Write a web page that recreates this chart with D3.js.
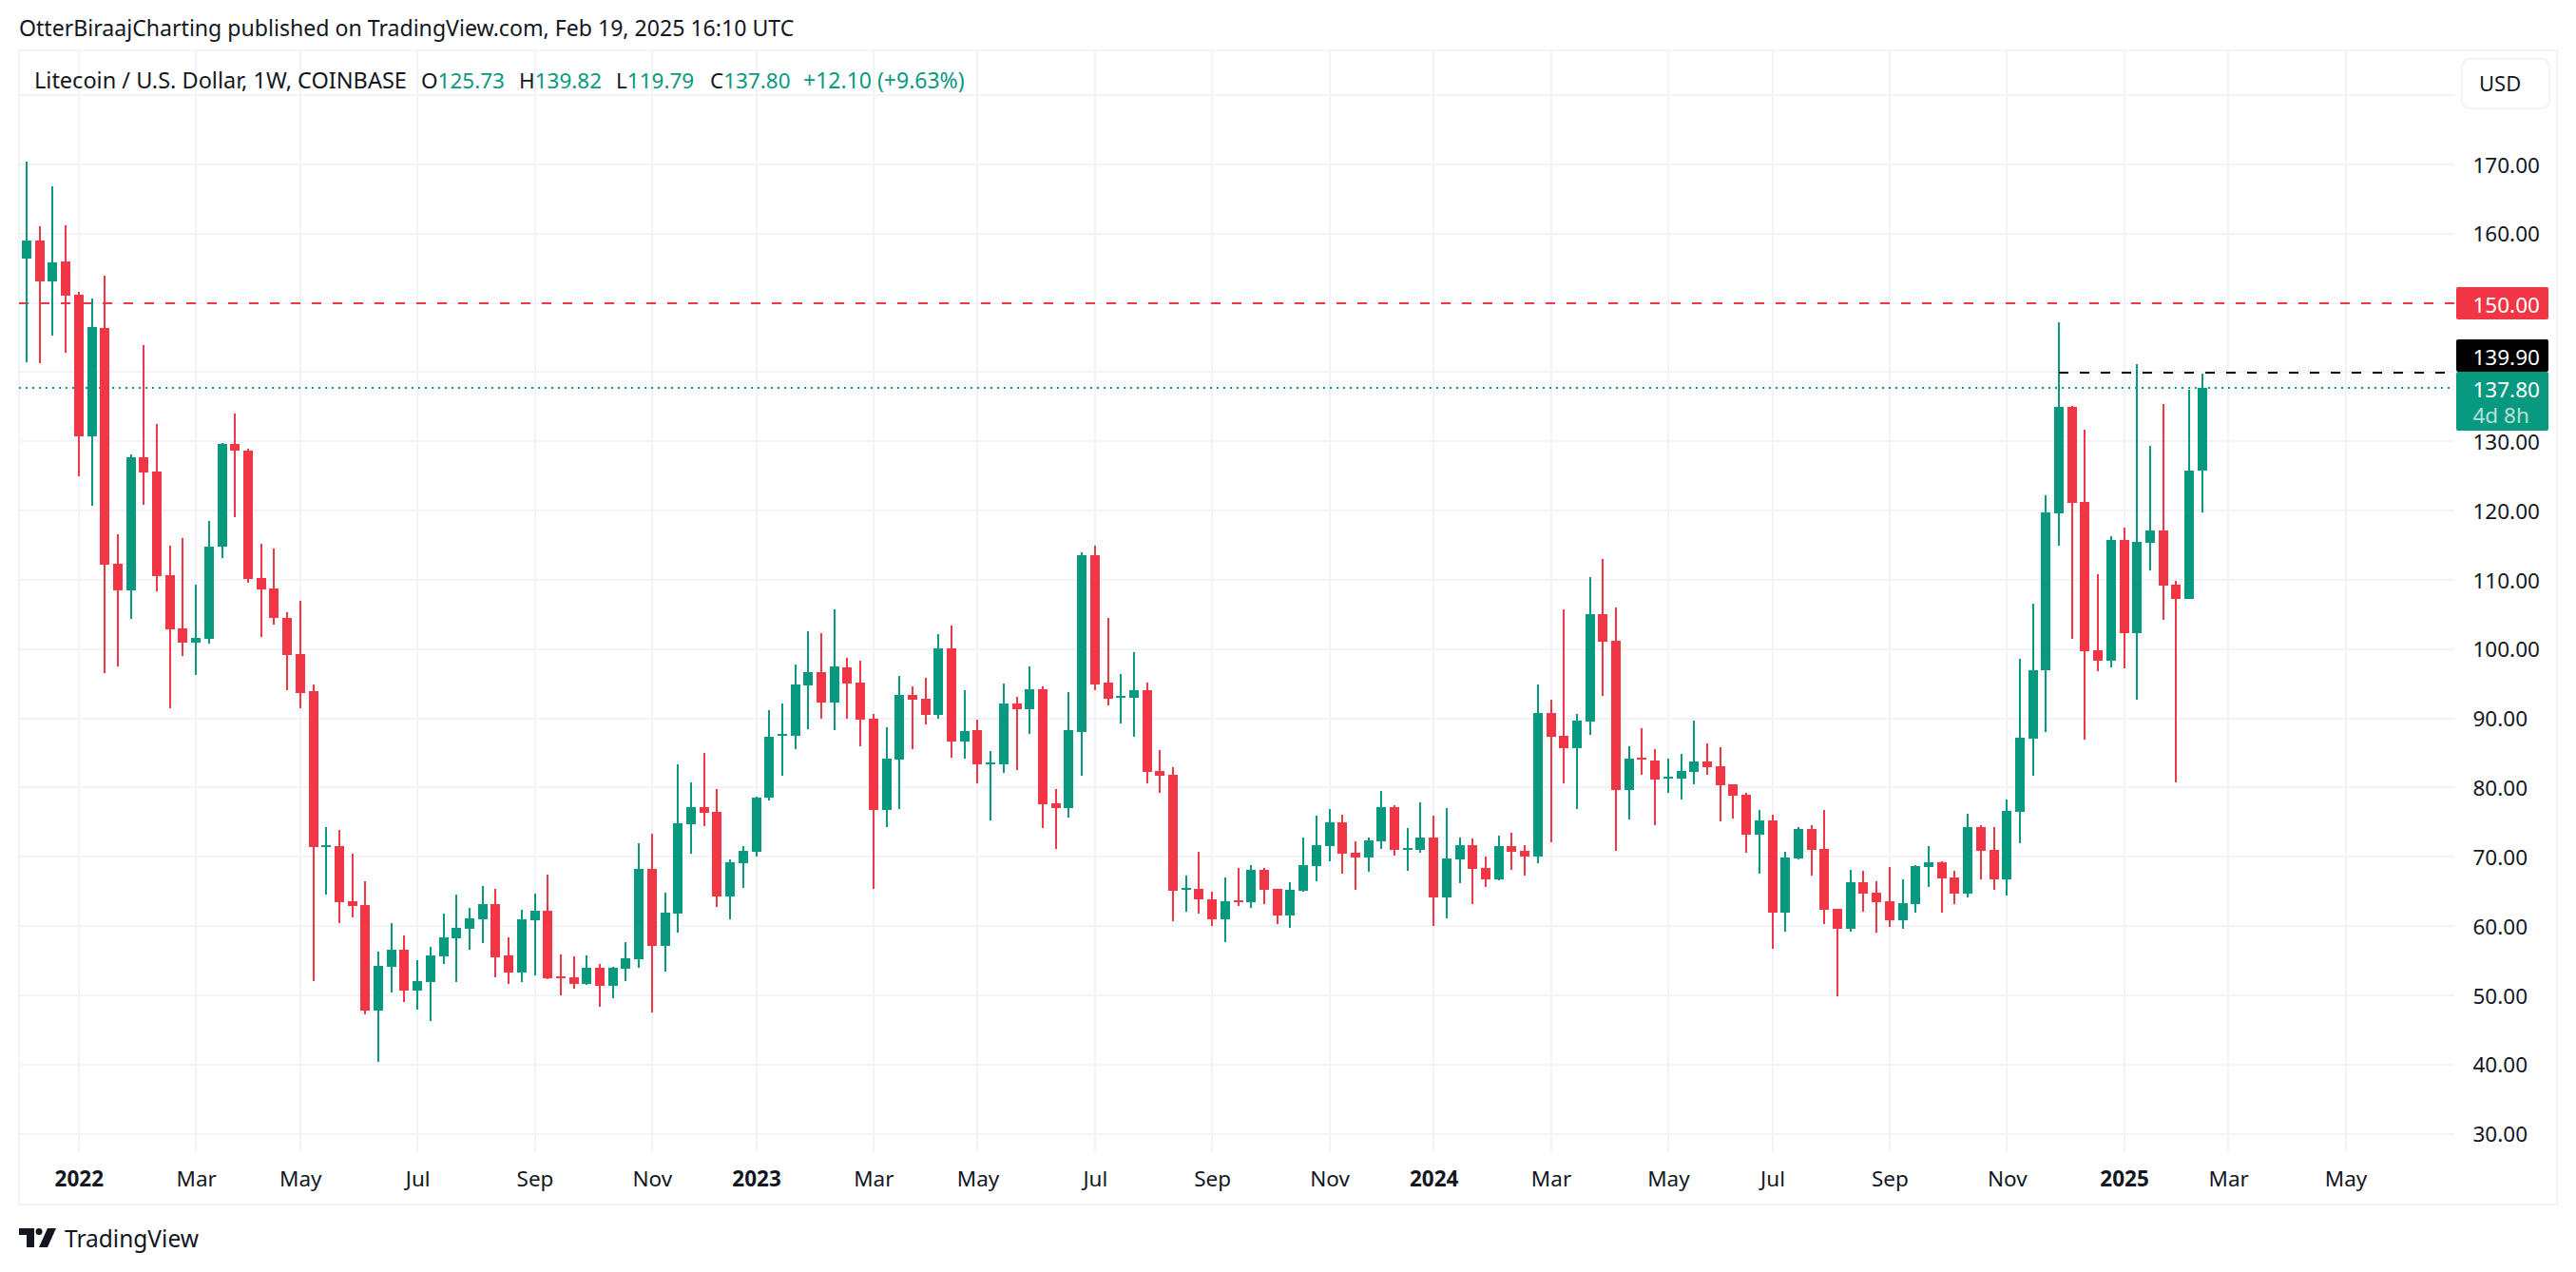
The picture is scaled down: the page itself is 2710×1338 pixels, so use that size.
<!DOCTYPE html>
<html>
<head>
<meta charset="utf-8">
<title>LTCUSD</title>
<script src="https://cdnjs.cloudflare.com/ajax/libs/d3/7.8.5/d3.min.js"></script>
<style>
  html, body { margin: 0; padding: 0; background: #fff; }
  svg { display: block; }
  text { font-family: "Noto Sans", sans-serif; fill: #131722; }
</style>
</head>
<body>
<div id="chart"></div>
<script>
// weekly candles
var firstWeek = '2021-12-06'
var opens = [
  156.37,158.98,153.07,155.95,151.15,130.69,146.34,112.3,108.45,127.67,125.61,110.64,102.95,100.89,101.44,114.77,129.6,128.63,110.23,108.72,
  104.46,99.25,93.89,71.37,71.5,63.55,63.0,47.76,54.07,56.54,50.64,51.88,55.58,58.19,59.56,60.94,63.14,55.72,53.25,60.8,
  62.17,52.7,52.56,51.6,53.93,51.33,53.8,55.17,68.21,57.09,61.76,74.67,77.14,76.45,64.23,69.04,70.68,78.51,87.44,87.44,
  94.71,96.63,92.24,97.32,95.12,89.9,76.73,84.0,93.34,92.79,90.46,100.07,86.61,88.26,83.32,83.32,92.1,91.28,94.16,77.69,
  77.0,87.98,113.52,95.12,92.93,92.93,94.03,82.35,81.81,65.19,65.33,63.82,60.94,63.68,63.41,68.08,65.33,61.49,65.06,68.63,
  71.51,74.94,70.55,69.86,72.19,77.14,70.96,70.96,72.74,64.09,69.59,71.65,68.35,66.7,71.51,70.82,70.0,90.73,87.44,85.65,
  89.5,105.01,101.17,79.61,84.28,83.87,81.26,81.26,82.22,83.73,83.04,80.43,78.92,73.15,75.22,61.9,69.72,73.98,71.1,62.45,
  59.57,66.29,64.78,63.55,60.8,63.13,68.49,69.17,66.98,64.65,74.26,70.97,66.71,76.46,87.03,96.97,119.57,135.05,121.2,99.81,
  98.32,115.72,102.31,115.34,117.12,109.28,107.21,125.73
]
var highs = [
  170.37,161.03,166.8,161.17,151.56,150.6,153.9,116.55,128.08,143.87,132.48,114.9,116.0,109.27,118.47,129.73,133.99,128.9,115.18,114.48,
  105.28,106.93,94.85,74.26,73.84,70.41,66.43,56.27,60.39,58.6,55.03,56.96,61.76,64.51,62.58,65.74,65.33,58.33,62.31,64.64,
  67.39,55.86,55.58,55.72,54.48,54.07,57.64,71.92,73.29,64.78,83.32,80.71,84.96,79.75,69.59,71.51,78.65,91.14,92.1,97.73,
  102.54,102.26,105.7,98.69,98.28,90.59,88.67,96.08,94.57,95.81,102.13,103.36,94.03,89.77,85.24,94.99,93.06,97.46,94.57,79.75,
  93.75,113.93,114.9,104.46,96.36,99.52,95.12,85.38,82.9,67.25,70.68,64.92,66.98,68.35,68.76,68.35,65.33,66.29,72.74,75.9,
  76.86,76.04,72.19,72.74,79.47,77.41,74.12,77.82,75.9,77.0,72.74,72.61,70.0,73.02,73.43,71.65,94.85,92.65,105.7,90.59,
  110.36,112.97,105.97,85.92,88.53,85.51,84.14,84.83,89.63,86.34,85.79,80.43,79.2,76.73,76.04,70.68,74.26,74.53,76.73,62.45,
  68.08,67.94,66.43,68.49,66.7,68.76,71.51,69.31,67.94,76.18,74.53,74.26,78.24,98.56,106.52,122.16,147.26,135.19,131.63,110.77,
  116.3,117.5,141.2,129.42,135.34,109.86,137.5,139.82
]
var lows = [
  141.45,141.26,145.25,142.77,124.92,120.67,96.5,97.46,104.32,120.8,108.3,91.42,98.97,96.22,100.75,113.1,119.02,109.55,101.71,103.5,
  94.03,91.42,52.01,64.51,60.39,61.21,47.21,40.34,50.36,49.0,47.9,46.25,54.48,51.88,56.54,57.51,52.56,51.6,51.88,52.84,
  52.29,49.95,50.92,51.46,48.31,49.54,52.01,53.93,47.48,53.39,59.02,70.41,74.39,62.72,60.94,65.47,70.0,78.1,81.67,85.51,
  88.4,89.9,88.26,89.9,85.92,65.33,74.26,76.86,85.51,89.08,89.9,84.28,84.14,80.57,75.21,82.08,82.49,87.71,74.12,71.1,
  75.63,81.67,94.03,91.83,89.22,87.3,80.57,79.2,60.66,62.03,61.76,59.98,57.64,62.86,62.58,63.13,60.25,59.7,64.92,66.43,
  69.31,67.53,65.19,67.8,71.1,70.13,67.94,70.55,59.98,61.07,66.15,63.13,65.6,66.57,68.08,67.25,69.04,72.06,80.57,76.86,
  87.57,93.2,70.82,75.35,81.8,74.53,79.2,78.24,80.43,81.8,75.08,75.49,70.55,67.53,56.68,59.15,69.59,67.25,60.25,49.82,
  59.15,62.03,59.02,59.84,59.57,61.9,65.6,61.9,63.14,64.1,66.71,65.2,64.37,71.92,81.67,88.03,114.95,101.49,86.88,96.83,
  97.36,97.2,92.69,111.35,104.23,80.77,107.21,119.79
]
var closes = [
  158.98,153.07,155.82,151.0,130.69,146.48,112.16,108.45,127.67,125.47,110.5,102.81,100.89,101.58,114.77,129.6,128.63,110.1,108.6,104.46,
  99.11,93.61,71.37,71.65,63.41,62.86,47.76,54.21,56.54,50.64,52.01,55.72,58.33,59.7,61.07,63.14,55.45,53.25,60.94,62.17,
  52.42,52.42,51.6,53.93,51.33,53.93,55.31,68.21,57.09,61.9,74.8,77.14,76.31,64.23,69.17,70.82,78.51,87.3,87.71,94.85,
  96.63,92.24,97.46,94.99,89.77,76.73,84.14,93.34,92.65,90.46,100.07,86.61,88.12,83.32,83.59,92.1,91.28,94.16,77.55,77.0,
  88.26,113.52,94.85,92.79,93.2,94.03,82.22,81.67,65.06,65.47,63.82,60.94,63.55,63.41,68.08,65.19,61.49,65.19,68.76,71.65,
  74.94,70.41,69.86,72.33,77.14,70.96,71.23,72.74,64.09,69.72,71.65,68.21,66.7,71.51,70.68,70.0,90.73,87.3,85.65,89.63,
  105.01,101.03,79.61,84.14,84.0,81.12,81.53,82.35,83.73,82.9,80.3,78.78,73.15,75.22,61.9,69.86,73.98,70.96,62.31,59.57,
  66.29,64.64,63.41,60.8,63.27,68.63,69.17,66.84,64.65,74.26,70.83,66.71,76.59,87.17,96.91,119.71,135.05,121.06,99.71,98.32,
  115.72,102.31,115.43,117.12,109.13,107.21,125.72,137.8
]

var priceGrid = [180, 170, 160, 150, 140, 130, 120, 110, 100, 90, 80, 70, 60, 50, 40, 30]
var priceTicks = [170, 160, 130, 120, 110, 100, 90, 80, 70, 60, 50, 40, 30]
var timeTicks = ['2022-01-03', '2022-03-07', '2022-05-02', '2022-07-04', '2022-09-05', '2022-11-07', '2023-01-02',
  '2023-03-06', '2023-05-01', '2023-07-03', '2023-09-04', '2023-11-06', '2024-01-01', '2024-03-04', '2024-05-06',
  '2024-07-01', '2024-09-02', '2024-11-04', '2025-01-06', '2025-03-03', '2025-05-05']
var timeLabels = ['2022', 'Mar', 'May', 'Jul', 'Sep', 'Nov', '2023', 'Mar', 'May', 'Jul', 'Sep', 'Nov', '2024',
  'Mar', 'May', 'Jul', 'Sep', 'Nov', '2025', 'Mar', 'May']
var resistance = 150
var highLevel = 139.9
var lastClose = 137.8

var width = 2710, height = 1338
var up = '#089981', down = '#f23645', grid = '#f0f3fa', edge = '#f6f2f5', ink = '#131722'
var parseDay = d3.utcParse('%Y-%m-%d')

var weeks = d3.range(opens.length).map(function (i) { return d3.utcDay.offset(parseDay(firstWeek), i * 7) })
var candles = opens.map(function (o, i) {
    return { date: weeks[i], open: o, high: highs[i], low: lows[i], close: closes[i] }
})

var x = d3.scaleUtc().domain([weeks[0], weeks[weeks.length - 1]]).range([28, 2316.8])
var y = d3.scaleLinear().domain([170, 30]).range([173, 1192.6])

var svg = d3.select('#chart').append('svg')
    .attr('width', width)
    .attr('height', height)

svg.append('text').attr('x', 20).attr('y', 38).attr('font-size', 23.1)
    .text('OtterBiraajCharting published on TradingView.com, Feb 19, 2025 16:10 UTC')

// pane frame
svg.append('rect').attr('x', 20).attr('y', 53).attr('width', 2670).attr('height', 1214)
    .attr('fill', 'none').attr('stroke', edge).attr('stroke-width', 2)

// grid
var lines = svg.append('g').attr('shape-rendering', 'crispEdges')
lines.append('g').selectAll('line').data(priceGrid).enter().append('line')
    .attr('x1', 21).attr('x2', 2582)
    .attr('y1', function (d) { return y(d) }).attr('y2', function (d) { return y(d) })
    .attr('stroke', grid).attr('stroke-width', 2)
lines.append('g').selectAll('line').data(timeTicks).enter().append('line')
    .attr('x1', function (d) { return x(parseDay(d)) }).attr('x2', function (d) { return x(parseDay(d)) })
    .attr('y1', 54).attr('y2', 1212)
    .attr('stroke', grid).attr('stroke-width', 2)

// price levels under the candles
lines.append('line').attr('x1', 20).attr('x2', 2584).attr('y1', y(resistance)).attr('y2', y(resistance))
    .attr('stroke', down).attr('stroke-width', 2).attr('stroke-dasharray', '10 12')
lines.append('line').attr('x1', 20).attr('x2', 2578).attr('y1', y(lastClose)).attr('y2', y(lastClose))
    .attr('stroke', up).attr('stroke-width', 2).attr('stroke-dasharray', '2 5')

// candles
var candle = svg.append('g').attr('shape-rendering', 'crispEdges')
    .selectAll('g').data(candles).enter().append('g')
    .attr('fill', function (d) { return d.close >= d.open ? up : down })
candle.append('rect')
    .attr('x', function (d) { return Math.round(x(d.date)) - 1 })
    .attr('width', 2)
    .attr('y', function (d) { return y(d.high) })
    .attr('height', function (d) { return y(d.low) - y(d.high) })
candle.append('rect')
    .attr('x', function (d) { return Math.round(x(d.date)) - 5 })
    .attr('width', 10)
    .attr('y', function (d) { return y(Math.max(d.open, d.close)) })
    .attr('height', function (d) { return Math.max(2, Math.abs(y(d.open) - y(d.close))) })

// dashed line from the top candle
svg.append('line').attr('x1', x(weeks[156])).attr('x2', 2572).attr('y1', y(highLevel)).attr('y2', y(highLevel))
    .attr('shape-rendering', 'crispEdges')
    .attr('stroke', '#000').attr('stroke-width', 2).attr('stroke-dasharray', '10 12')

// axes
var yAxis = svg.append('g').attr('transform', 'translate(2601.5,0.9)')
    .call(d3.axisRight(y).tickValues(priceTicks).tickFormat(d3.format('.2f')).tickSize(0).tickPadding(0))
var xAxis = svg.append('g').attr('transform', 'translate(0,1232)')
    .call(d3.axisBottom(x).tickValues(timeTicks.map(parseDay)).tickSize(0).tickPadding(0)
        .tickFormat(function (d, i) { return timeLabels[i] }))
yAxis.select('.domain').remove()
xAxis.select('.domain').remove()
yAxis.selectAll('text').attr('font-size', 22.5).attr('font-family', null).style('fill', ink)
xAxis.selectAll('text').attr('font-size', 22.5).attr('font-family', null).style('fill', ink)
    .attr('font-weight', function (d, i) { return /^\d/.test(timeLabels[i]) ? 700 : 400 })

// legend
svg.append('text').attr('x', 36).attr('y', 92.5).attr('font-size', 23.5)
    .text('Litecoin / U.S. Dollar, 1W, COINBASE')
var legendBits = [['O', '125.73', 443], ['H', '139.82', 546], ['L', '119.79', 648], ['C', '137.80', 747]]
legendBits.forEach(function (b) {
    var t = svg.append('text').attr('x', b[2]).attr('y', 92.5).attr('font-size', 22.5)
    t.append('tspan').text(b[0])
    t.append('tspan').style('fill', up).text(b[1])
})
svg.append('text').attr('x', 845).attr('y', 92.5).attr('font-size', 23).style('fill', up).text('+12.10 (+9.63%)')

// currency button
svg.append('rect').attr('x', 2590).attr('y', 62).attr('width', 92).attr('height', 52).attr('rx', 8)
    .attr('fill', '#fff').attr('stroke', edge).attr('stroke-width', 2)
svg.append('text').attr('x', 2608).attr('y', 96).attr('font-size', 22).text('USD')

// price tags
function tag(top, h, fill, label) {
    svg.append('rect').attr('x', 2584).attr('y', Math.round(top)).attr('width', 97).attr('height', h).attr('rx', 2).attr('fill', fill)
    svg.append('text').attr('x', 2601.5).attr('y', Math.round(top) + 26.5).attr('font-size', 22.5).style('fill', '#fff').text(label)
}
tag(y(resistance) - 17, 34, down, d3.format('.2f')(resistance))
tag(y(highLevel) - 35, 34, '#000', d3.format('.2f')(highLevel))
tag(y(highLevel) - 1, 62, up, d3.format('.2f')(lastClose))
svg.append('text').attr('x', 2601.5).attr('y', 444.5).attr('font-size', 22.5).style('fill', '#b5e0d7').text('4d 8h')

// logo
var logo = svg.append('g').attr('transform', 'translate(20,1292)').attr('fill', ink)
logo.append('path').attr('d', 'M0 0H16V20H8V7H0Z')
logo.append('circle').attr('cx', 21).attr('cy', 3.5).attr('r', 3.5)
logo.append('path').attr('d', 'M30 0H39L30 20H21Z')
svg.append('text').attr('x', 68).attr('y', 1312).attr('font-size', 24.5).text('TradingView')
</script>
</body>
</html>
